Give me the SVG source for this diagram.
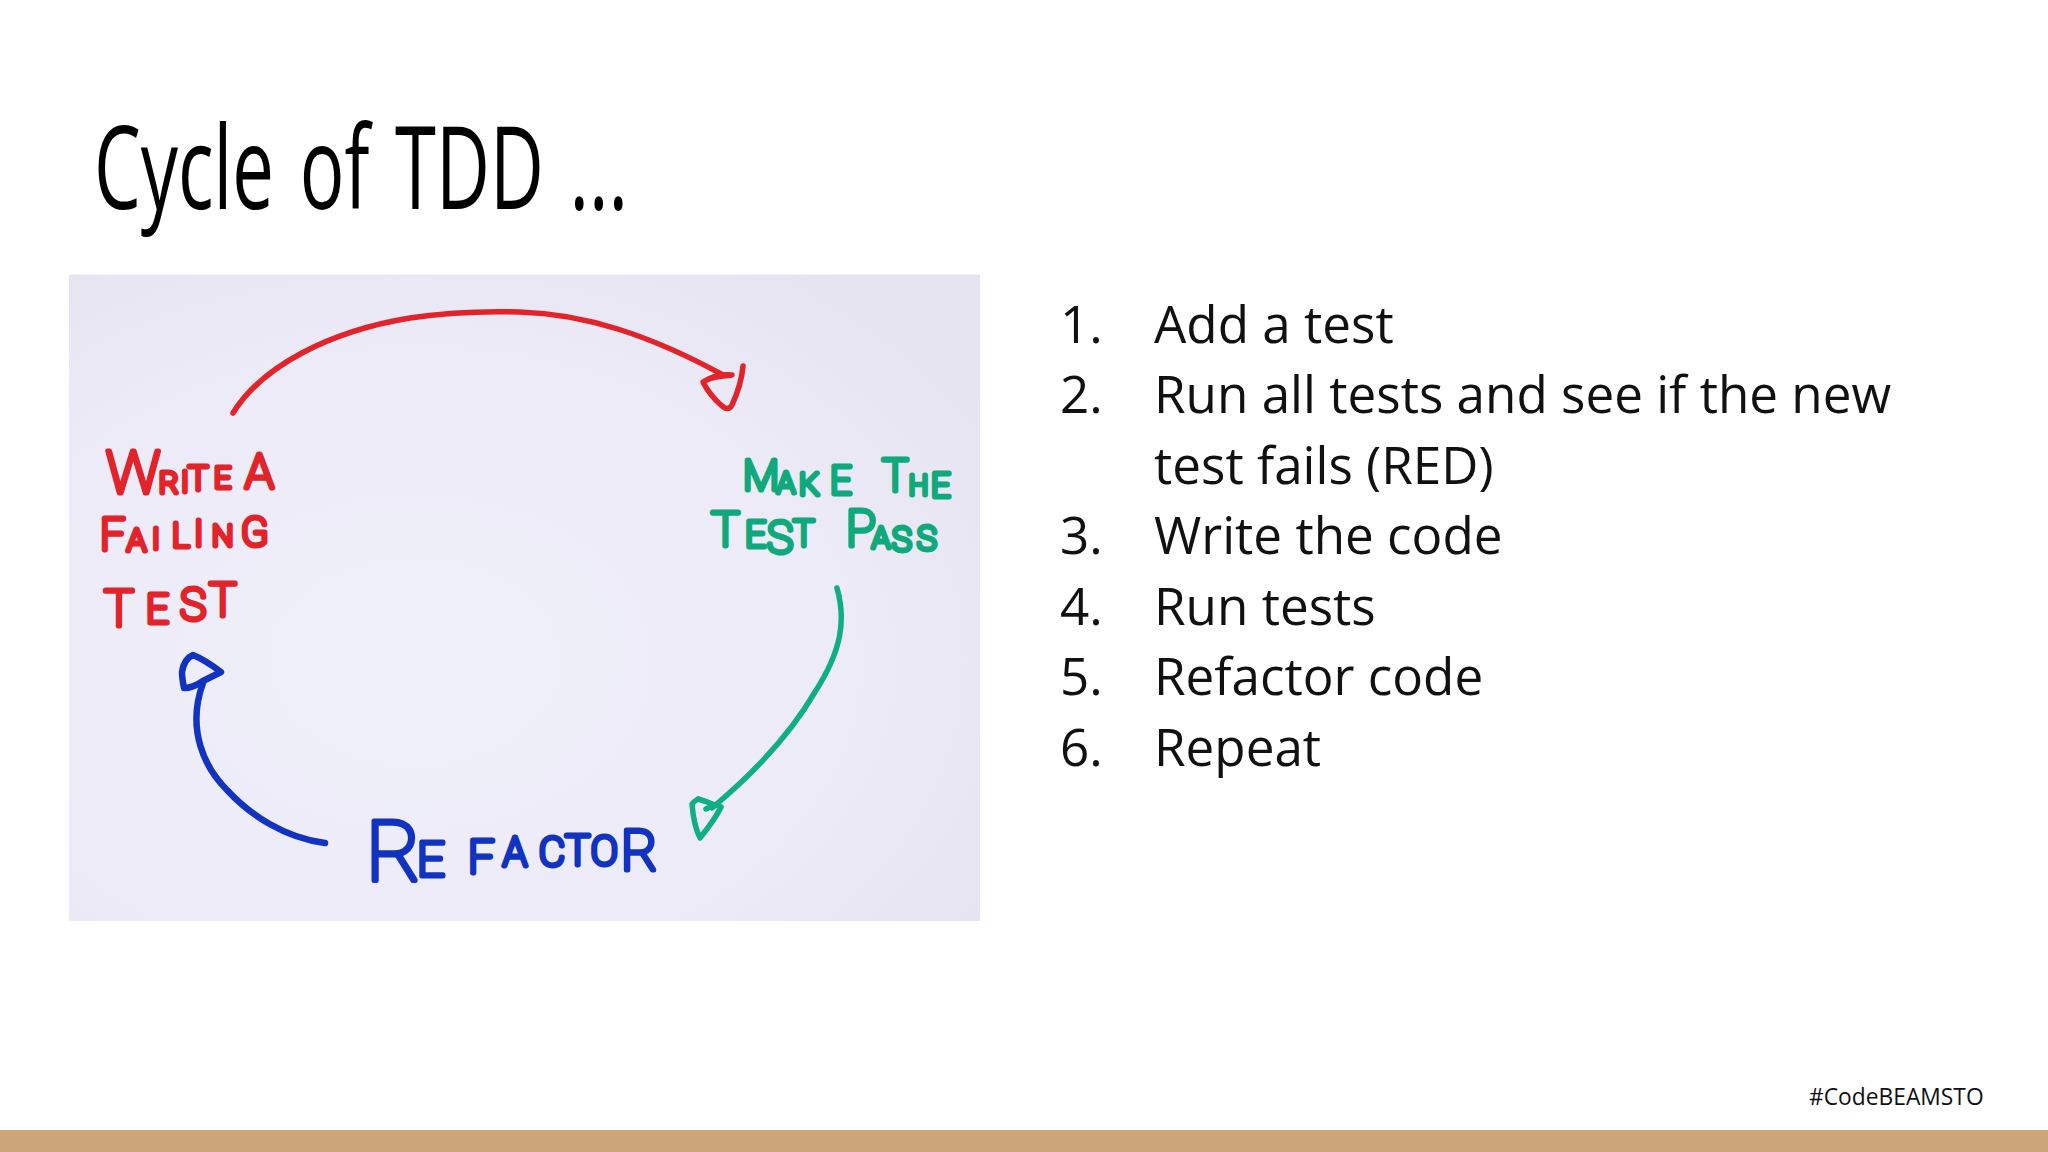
<svg xmlns="http://www.w3.org/2000/svg" width="2048" height="1152" viewBox="0 0 2048 1152">
<style>
.title{font-family:"Open Sans","Liberation Sans",sans-serif;font-size:116px;font-weight:400;fill:#000;word-spacing:10px}
.list{font-family:"Open Sans","Liberation Sans",sans-serif;font-size:51.200px;fill:#111}
.foot{font-family:"Open Sans","Liberation Sans",sans-serif;font-size:22.800px;fill:#111}
.hand{font-family:Roboto,"Liberation Sans",sans-serif;font-weight:100;stroke-width:5px;stroke-linejoin:round;stroke-linecap:round}
.stroke{fill:none;stroke-linecap:round;stroke-linejoin:round}
.red{fill:#e3232a;stroke:#e3232a}
.green{fill:#0fa97c;stroke:#0fa97c}
.blue{fill:#1233c0;stroke:#1233c0}
.ls-red{stroke:#e3232a}
.ls-green{stroke:#0fae84}
.ls-blue{stroke:#1233c0}
</style>
<defs>
<radialGradient id="paper" cx="0.38" cy="0.6" r="0.75">
<stop offset="0" stop-color="#f0f0fb"/>
<stop offset="0.6" stop-color="#ecebf7"/>
<stop offset="1" stop-color="#e5e4f0"/>
</radialGradient>
</defs>
<rect width="2048" height="1152" fill="#ffffff"/>
<rect x="0" y="1130" width="2048" height="22" fill="#cca67a"/>
<text class="title" x="94" y="209" textLength="534" lengthAdjust="spacingAndGlyphs">Cycle of TDD ...</text>
<rect id="photo" x="69" y="274.500" width="911" height="646.500" fill="url(#paper)"/>
<g id="connectors">
<path id="red-arrow" class="stroke ls-red" stroke-width="5.500" d="M233 413C262 366 330 331 410 318C450 312 490 311 520 312C585 314 650 335 723 375"/>
<path id="red-head" class="stroke ls-red" stroke-width="5.500" d="M743 366C742 378 738 392 732 405C729 410 726 409 722 406C714 399 708 392 703 382C712 376 722 374 732 375C722 376 712 377 707 380"/>
<path id="green-arrow" class="stroke ls-green" stroke-width="5.500" d="M837 588C846 620 842 650 815 692C790 735 755 772 712 808"/>
<path id="green-head" class="stroke ls-green" stroke-width="5.500" d="M698 799C695 801 693 802 692 804C693 817 696 830 700 838C708 828 716 818 721 807C714 805 706 801 698 799M712 806L706 809"/>
<path id="blue-arrow" class="stroke ls-blue" stroke-width="6.500" d="M325 843C285 838 250 815 227 790C205 768 186 730 203 683"/>
<path id="blue-head" class="stroke ls-blue" stroke-width="6.500" d="M193 655C186 658 183 665 182 672C182 678 183 683 184 688C190 688 196 686 203 681C209 678 215 675 221 672C213 666 203 659 193 655Z"/>
</g>
<g id="node-write">
<text class="hand red"><tspan x="106" y="493" font-size="60">W</tspan><tspan x="159" y="493" font-size="30">R</tspan><tspan x="181" y="492" font-size="30">I</tspan><tspan x="188" y="490" font-size="34">T</tspan><tspan x="214" y="488" font-size="30">E</tspan><tspan x="235" y="488" font-size="30"> </tspan><tspan x="245" y="488" font-size="48">A</tspan></text>
<text class="hand red"><tspan x="100" y="550" font-size="44">F</tspan><tspan x="127" y="551" font-size="32">A</tspan><tspan x="152" y="549" font-size="30">I</tspan><tspan x="172" y="547" font-size="34">L</tspan><tspan x="194" y="546" font-size="36">I</tspan><tspan x="212" y="546" font-size="30">N</tspan><tspan x="241" y="546" font-size="40">G</tspan></text>
<text class="hand red"><tspan x="104" y="626" font-size="50">T</tspan><tspan x="146" y="623" font-size="40">E</tspan><tspan x="180" y="620" font-size="44">S</tspan><tspan x="209" y="616" font-size="46">T</tspan></text>
</g>
<g id="node-pass">
<text class="hand green"><tspan x="743" y="490" font-size="42">M</tspan><tspan x="777" y="493" font-size="30">A</tspan><tspan x="799" y="495" font-size="32">K</tspan><tspan x="830" y="494" font-size="38">E</tspan><tspan x="882" y="491" font-size="44">T</tspan><tspan x="909" y="495" font-size="27">H</tspan><tspan x="931" y="497" font-size="34">E</tspan></text>
<text class="hand green"><tspan x="711" y="546" font-size="48">T</tspan><tspan x="745" y="547" font-size="37">E</tspan><tspan x="767" y="553" font-size="44">S</tspan><tspan x="793" y="546" font-size="36">T</tspan><tspan x="846" y="546" font-size="50">P</tspan><tspan x="872" y="548" font-size="30">A</tspan><tspan x="892" y="551" font-size="33">S</tspan><tspan x="917" y="550" font-size="33">S</tspan></text>
</g>
<g id="node-refactor">
<text class="hand blue"><tspan x="366" y="880" font-size="84">R</tspan><tspan x="417" y="876" font-size="49">E</tspan><tspan x="468" y="873" font-size="46">F</tspan><tspan x="503" y="866" font-size="40">A</tspan><tspan x="539" y="866" font-size="40">C</tspan><tspan x="565" y="865" font-size="42">T</tspan><tspan x="591" y="865" font-size="40">O</tspan><tspan x="621" y="870" font-size="56">R</tspan></text>
</g>
<g id="steps">
<text class="list"><tspan x="1060" y="342.800">1.</tspan><tspan x="1154" y="342.800">Add a test</tspan></text>
<text class="list"><tspan x="1060" y="413.300">2.</tspan><tspan x="1154" y="413.300">Run all tests and see if the new</tspan></text>
<text class="list" x="1154" y="483.800">test fails (RED)</text>
<text class="list"><tspan x="1060" y="554.300">3.</tspan><tspan x="1154" y="554.300">Write the code</tspan></text>
<text class="list"><tspan x="1060" y="624.800">4.</tspan><tspan x="1154" y="624.800">Run tests</tspan></text>
<text class="list"><tspan x="1060" y="695.300">5.</tspan><tspan x="1154" y="695.300">Refactor code</tspan></text>
<text class="list"><tspan x="1060" y="765.800">6.</tspan><tspan x="1154" y="765.800">Repeat</tspan></text>
</g>
<text class="foot" x="1809" y="1105">#CodeBEAMSTO</text>
</svg>
